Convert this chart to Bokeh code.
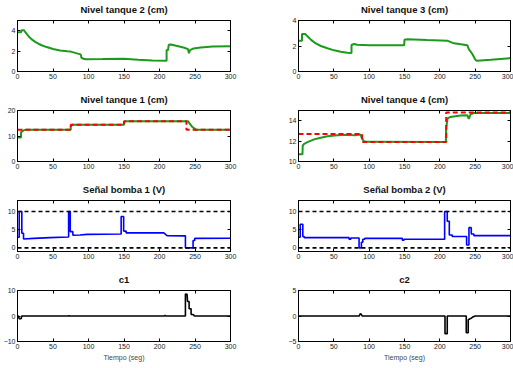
from bokeh.plotting import figure
from bokeh.layouts import column, row
from bokeh.models import FixedTicker, LinearAxis, Range1d, CustomJSTickFormatter
from bokeh.embed import file_html
from bokeh.resources import INLINE

time_ticks = [0, 50, 100, 150, 200, 250, 300]

tanque2_t = [0, 5, 6, 9, 11, 14, 17, 20, 25, 30, 35, 40, 50, 60, 70, 75, 80, 85, 89, 90,
             93, 96, 120, 150, 170, 190, 210, 210, 212, 213, 216, 225, 235, 239, 240, 241.5,
             243, 248, 258, 275, 300]
tanque2_v = [3.85, 3.85, 4.05, 4.05, 3.85, 3.6, 3.35, 3.15, 2.9, 2.7, 2.55, 2.42, 2.2, 2.06,
             1.98, 1.95, 1.85, 1.75, 1.68, 1.35, 1.25, 1.2, 1.22, 1.25, 1.15, 1.08, 1.05, 2.1,
             2.1, 2.62, 2.65, 2.5, 2.33, 2.22, 2.2, 1.8, 2.1, 2.26, 2.36, 2.46, 2.48]

tanque3_t = [0, 5, 5, 9.5, 12.7, 17.4, 24.5, 31.6, 41, 50.4, 59.8, 69, 75, 75, 78.7, 83, 100,
             149.5, 150, 154, 182, 210.5, 220, 239, 241, 246, 250.6, 253, 272, 300]
tanque3_v = [2.42, 2.42, 2.95, 2.95, 2.76, 2.5, 2.2, 2.0, 1.82, 1.66, 1.55, 1.47, 1.45, 2.08,
             2.16, 2.1, 2.06, 2.05, 2.5, 2.53, 2.47, 2.42, 2.21, 2.05, 1.76, 1.37, 0.89, 0.84,
             0.92, 1.05]

tanque1_ref_t = [0, 75, 75, 150, 150, 238, 238, 300]
tanque1_ref_v = [12.5, 12.5, 14.4, 14.4, 15.8, 15.8, 12.5, 12.5]
tanque1_t = [0, 5, 5, 8.5, 12, 75, 75, 77, 150, 150, 152, 240, 246, 251, 300]
tanque1_v = [9.4, 9.4, 11.5, 12.2, 12.5, 12.5, 13.8, 14.4, 14.4, 15.3, 15.8, 15.8, 13.6, 12.5, 12.5]

tanque4_ref_t = [0, 90, 90, 209, 209, 300]
tanque4_ref_v = [12.7, 12.7, 11.9, 11.9, 14.8, 14.8]
tanque4_t = [0, 5.6, 6, 8, 12.7, 22, 31.6, 41, 55, 69, 75, 80, 85, 88, 89.5, 92, 95, 208.5,
             209, 211, 215, 229, 239, 241, 243.5, 248, 300]
tanque4_v = [10.7, 10.7, 11.57, 11.73, 11.9, 12.17, 12.33, 12.47, 12.57, 12.63, 12.6, 12.58,
             12.63, 12.63, 12.3, 12.03, 11.93, 11.9, 13.3, 14.23, 14.37, 14.5, 14.53, 14.17,
             14.63, 14.75, 14.75]

bomba_limits = [0, 10]
bomba1_t = [0, 2.4, 2.4, 6.1, 6.1, 8.5, 8.5, 22.6, 46, 72, 72, 74.3, 74.3, 78, 78, 88, 98, 146,
            146, 149.5, 149.5, 153, 153, 206, 210.6, 236.5, 236.5, 247.3, 247.3, 249.6, 249.6, 300]
bomba1_v = [2.9, 2.9, 10, 10, 4.0, 4.0, 2.45, 2.6, 2.8, 3.0, 10, 10, 4.45, 4.45, 3.45, 3.55,
            3.7, 3.8, 8.6, 8.6, 4.6, 4.6, 4.1, 4.1, 3.35, 3.3, 0, 0, 2.0, 2.0, 2.6, 2.65]

bomba2_t = [0, 2.4, 2.4, 6.1, 6.1, 8, 8, 71.6, 71.6, 74, 74, 85.7, 85.7, 89, 89, 91, 91, 93.7,
            93.7, 147, 147, 149.3, 149.3, 206.8, 206.8, 210.5, 210.5, 213.4, 213.4, 217.6,
            217.6, 237.9, 237.9, 241.2, 241.2, 244.5, 244.5, 248.2, 248.2, 300]
bomba2_v = [2.9, 2.9, 6.5, 6.5, 3.1, 3.1, 2.8, 2.8, 2.36, 2.36, 2.7, 2.7, 0, 0, 1.55, 1.55,
            2.36, 2.36, 2.6, 2.6, 2.1, 2.1, 2.36, 2.36, 10, 10, 7.3, 7.3, 3.55, 3.55, 3.1, 3.1,
            0.8, 0.8, 5.55, 5.55, 3.8, 3.8, 3.35, 3.35]

c1_t = [0, 1.4, 2.4, 5.2, 6, 72, 72.5, 73, 207, 208, 209, 236.5, 236.5, 238.8, 239.5, 241.7,
        241.7, 244.5, 244.5, 248.2, 249, 300]
c1_v = [0, 0, -1.05, -1.05, 0, 0, 0.2, 0, 0, 0.26, 0, 0, 8.6, 8.5, 5.7, 5.7, 2.86, 2.86, 0.65,
        0.5, 0, 0]

c2_t = [0, 86, 87, 88, 89, 90, 207.3, 207.3, 210.5, 210.5, 237.4, 237.4, 240.2, 240.2, 243.5,
        246, 250, 300]
c2_v = [0, 0, 0.35, 0.45, 0.3, 0, 0, -3.46, -3.46, 0, 0, -3.27, -3.27, -0.72, -0.5, -0.26, 0, 0]

GREEN = "#1c9a1c"
RED = "#ff0000"
BLUE = "#0000ff"
FONT = "Liberation Sans"


def style_axis(ax, ticks, labels=True):
    ax.ticker = FixedTicker(ticks=ticks)
    ax.minor_tick_line_color = None
    ax.major_tick_in = 3
    ax.major_tick_out = 0
    ax.axis_line_color = "black"
    ax.major_tick_line_color = "black"
    ax.major_label_text_font = FONT
    ax.major_label_text_color = "#222222"
    ax.major_label_standoff = 2
    ax.major_label_text_font_size = "7px"
    if not labels:
        ax.formatter = CustomJSTickFormatter(code="return ''")
        ax.major_label_standoff = 0


def make_fig(title, ylim, yticks, side, height=90, xlabel=None):
    if side == "left":
        w, bl, br = 260, 17, 30
    else:
        w, bl, br = 253, 38, 3
    p = figure(width=w, height=height, x_range=Range1d(0, 300), y_range=Range1d(*ylim),
               output_backend="svg", toolbar_location=None,
               min_border_left=bl, min_border_right=br, min_border_top=20,
               min_border_bottom=height - 20 - 51)
    p.title.text = title
    p.title.align = "center"
    p.title.vertical_align = "top"
    p.title.text_font = FONT
    p.title.text_font_size = "9.5px"
    p.title.text_font_style = "bold"
    p.title.text_color = "#111111"
    p.title.standoff = 7
    p.xgrid.visible = False
    p.ygrid.visible = False
    p.outline_line_color = "black"
    p.outline_line_alpha = 1
    p.background_fill_color = "white"
    p.border_fill_color = "white"
    style_axis(p.xaxis[0], time_ticks)
    style_axis(p.yaxis[0], yticks)
    if xlabel:
        p.xaxis[0].axis_label = xlabel
        p.xaxis[0].axis_label_text_font = FONT
        p.xaxis[0].axis_label_text_font_size = "7px"
        p.xaxis[0].axis_label_text_font_style = "normal"
        p.xaxis[0].axis_label_standoff = 2
    ra = LinearAxis()
    style_axis(ra, yticks, labels=False)
    p.add_layout(ra, "right")
    ta = LinearAxis()
    style_axis(ta, time_ticks, labels=False)
    p.add_layout(ta, "above")
    return p


p2 = make_fig("Nivel tanque 2 (cm)", (0, 5), [0, 2, 4], "left")
p2.line(tanque2_t, tanque2_v, line_color=GREEN, line_width=2)

p3 = make_fig("Nivel tanque 3 (cm)", (0, 4), [0, 2, 4], "right")
p3.line(tanque3_t, tanque3_v, line_color=GREEN, line_width=2)

p1 = make_fig("Nivel tanque 1 (cm)", (0, 20), [0, 10, 20], "left")
p1.line(tanque1_t, tanque1_v, line_color=GREEN, line_width=2)
p1.line(tanque1_ref_t, tanque1_ref_v, line_color=RED, line_width=2, line_dash="5 3")

p4 = make_fig("Nivel tanque 4 (cm)", (10, 15), [10, 12, 14], "right")
p4.line(tanque4_t, tanque4_v, line_color=GREEN, line_width=2)
p4.line(tanque4_ref_t, tanque4_ref_v, line_color=RED, line_width=2, line_dash="5 3")

pb1 = make_fig("Señal bomba 1 (V)", (-1, 13), [0, 5, 10], "left")
pb1.line(bomba1_t, bomba1_v, line_color=BLUE, line_width=1.6)
pb2 = make_fig("Señal bomba 2 (V)", (-1, 13), [0, 5, 10], "right")
pb2.line(bomba2_t, bomba2_v, line_color=BLUE, line_width=1.6)
for pb in (pb1, pb2):
    for lim in bomba_limits:
        pb.line([0, 300], [lim, lim], line_color="black", line_width=1.6, line_dash="4 3")

pc1 = make_fig("c1", (-10, 10), [-10, 0, 10], "left", height=98, xlabel="Tiempo (seg)")
pc1.line(c1_t, c1_v, line_color="black", line_width=1.6)
pc2 = make_fig("c2", (-5, 5), [-5, 0, 5], "right", height=98, xlabel="Tiempo (seg)")
pc2.line(c2_t, c2_v, line_color="black", line_width=1.6)

layout = column(row(p2, p3), row(p1, p4), row(pb1, pb2), row(pc1, pc2))

open("out.html", "w").write(file_html(layout, INLINE))
